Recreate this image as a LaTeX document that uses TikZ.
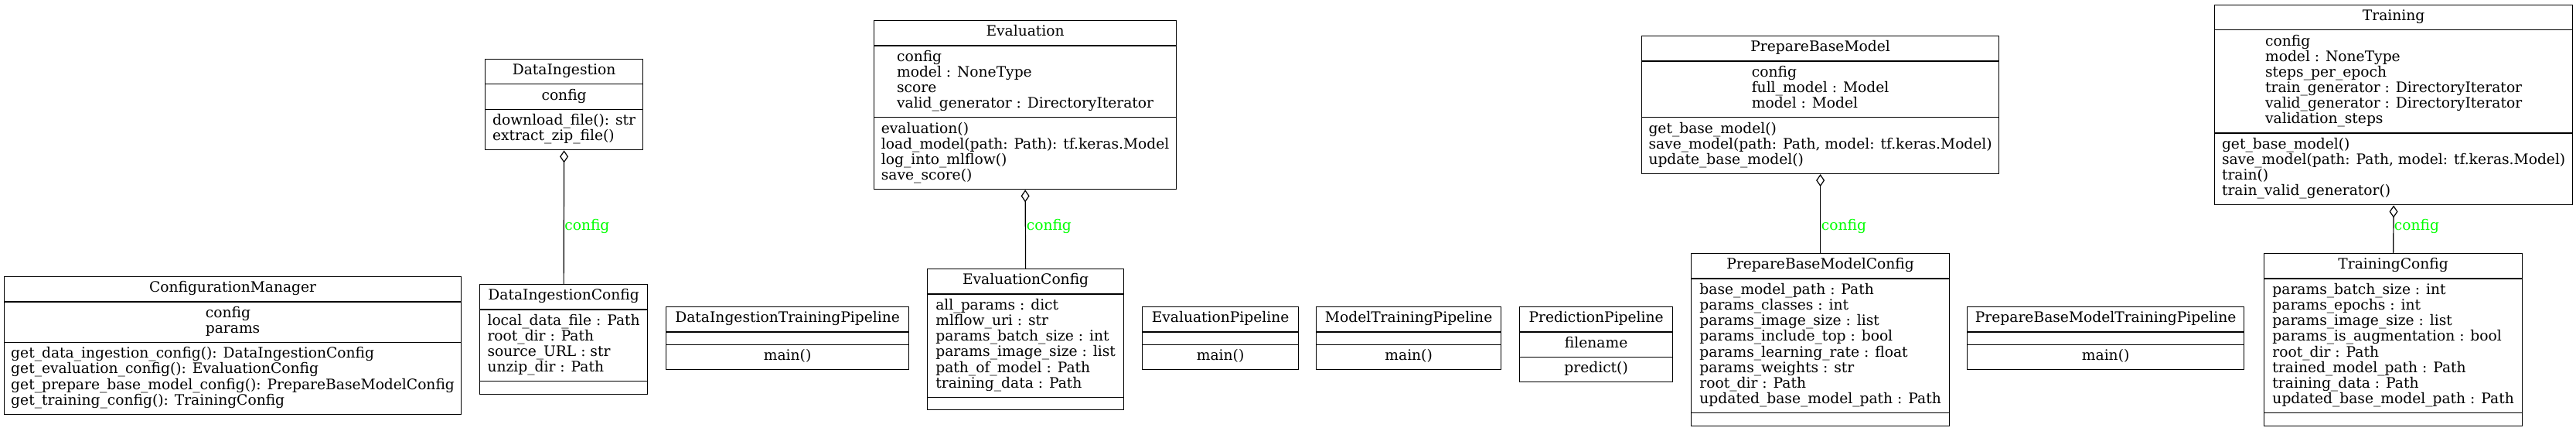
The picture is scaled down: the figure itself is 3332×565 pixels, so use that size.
\documentclass[tikz,border=0pt]{standalone}
\usepackage{fontspec}
\setmainfont{DejaVu Serif}
\usepackage{tikz}
\usetikzlibrary{shapes.multipart,arrows.meta}
\definecolor{cLbl}{RGB}{0,255,0}
\definecolor{cLine}{RGB}{0,0,0}
\newcommand{\members}[1]{\begin{tabular}{@{}l@{}}#1\end{tabular}}

\begin{document}
\begin{tikzpicture}[x=1pt,y=-1pt,
  cls/.style={draw=cLine,line width=1.2pt,rectangle split,rectangle split parts=3,
    inner xsep=5pt,inner ysep=5.5pt,anchor=north west,
    font=\fontsize{18.67}{20}\selectfont},
  agg/.style={draw=cLine,line width=1.2pt,-{Diamond[open,length=16pt,width=11pt]}},
  lbl/.style={text=cLbl,anchor=west,inner sep=1pt,font=\fontsize{18.67}{20}\selectfont}]
\useasboundingbox (0,0) rectangle (3332,565);
\coordinate (lbly) at (0,292);
\node[cls,minimum width=591pt] (cm) at (5,357) {\members{ConfigurationManager}
  \nodepart{two}\members{config\\params}
  \nodepart{three}\members{get\_data\_ingestion\_config(): DataIngestionConfig\\get\_evaluation\_config(): EvaluationConfig\\get\_prepare\_base\_model\_config(): PrepareBaseModelConfig\\get\_training\_config(): TrainingConfig}};
\node[cls,minimum width=204pt] (di) at (627,76) {\members{DataIngestion}
  \nodepart{two}\members{config}
  \nodepart{three}\members{download\_file(): str\\extract\_zip\_file()}};
\node[cls,minimum width=217pt] (dic) at (620,367) {\members{DataIngestionConfig}
  \nodepart{two}\members{local\_data\_file : Path\\root\_dir : Path\\source\_URL : str\\unzip\_dir : Path}
  \nodepart{three}\members{}};
\node[cls,minimum width=314pt] (ditp) at (861,396) {\members{DataIngestionTrainingPipeline}
  \nodepart{two}\members{}
  \nodepart{three}\members{main()}};
\node[cls,minimum width=391pt] (ev) at (1130,26) {\members{Evaluation}
  \nodepart{two}\members{config\\model : NoneType\\score\\valid\_generator : DirectoryIterator}
  \nodepart{three}\members{evaluation()\\load\_model(path: Path): tf.keras.Model\\log\_into\_mlflow()\\save\_score()}};
\node[cls,minimum width=254pt] (evc) at (1199,347) {\members{EvaluationConfig}
  \nodepart{two}\members{all\_params : dict\\mlflow\_uri : str\\params\_batch\_size : int\\params\_image\_size : list\\path\_of\_model : Path\\training\_data : Path}
  \nodepart{three}\members{}};
\node[cls,minimum width=202pt] (evp) at (1477,396) {\members{EvaluationPipeline}
  \nodepart{two}\members{}
  \nodepart{three}\members{main()}};
\node[cls,minimum width=239pt] (mtp) at (1702,396) {\members{ModelTrainingPipeline}
  \nodepart{two}\members{}
  \nodepart{three}\members{main()}};
\node[cls,minimum width=198pt] (pp) at (1965,396) {\members{PredictionPipeline}
  \nodepart{two}\members{filename}
  \nodepart{three}\members{predict()}};
\node[cls,minimum width=462pt] (pbm) at (2123,46) {\members{PrepareBaseModel}
  \nodepart{two}\members{config\\full\_model : Model\\model : Model}
  \nodepart{three}\members{get\_base\_model()\\save\_model(path: Path, model: tf.keras.Model)\\update\_base\_model()}};
\node[cls,minimum width=334pt] (pbmc) at (2187,327) {\members{PrepareBaseModelConfig}
  \nodepart{two}\members{base\_model\_path : Path\\params\_classes : int\\params\_image\_size : list\\params\_include\_top : bool\\params\_learning\_rate : float\\params\_weights : str\\root\_dir : Path\\updated\_base\_model\_path : Path}
  \nodepart{three}\members{}};
\node[cls,minimum width=358pt] (pbmtp) at (2544,396) {\members{PrepareBaseModelTrainingPipeline}
  \nodepart{two}\members{}
  \nodepart{three}\members{main()}};
\node[cls,minimum width=463pt] (tr) at (2864,6) {\members{Training}
  \nodepart{two}\members{config\\model : NoneType\\steps\_per\_epoch\\train\_generator : DirectoryIterator\\valid\_generator : DirectoryIterator\\validation\_steps}
  \nodepart{three}\members{get\_base\_model()\\save\_model(path: Path, model: tf.keras.Model)\\train()\\train\_valid\_generator()}};
\node[cls,minimum width=334pt] (trc) at (2928,327) {\members{TrainingConfig}
  \nodepart{two}\members{params\_batch\_size : int\\params\_epochs : int\\params\_image\_size : list\\params\_is\_augmentation : bool\\root\_dir : Path\\trained\_model\_path : Path\\training\_data : Path\\updated\_base\_model\_path : Path}
  \nodepart{three}\members{}};
\draw[agg] (dic.north) -- (di.south);
\draw[agg] (evc.north) -- (ev.south);
\draw[agg] (pbmc.north) -- (pbm.south);
\draw[agg] (trc.north) -- (tr.south);
\node[lbl] (l1) at (dic.north |- lbly) {config};
\node[lbl] (l2) at (evc.north |- lbly) {config};
\node[lbl] (l3) at (pbmc.north |- lbly) {config};
\node[lbl] (l4) at (trc.north |- lbly) {config};
\end{tikzpicture}
\end{document}
